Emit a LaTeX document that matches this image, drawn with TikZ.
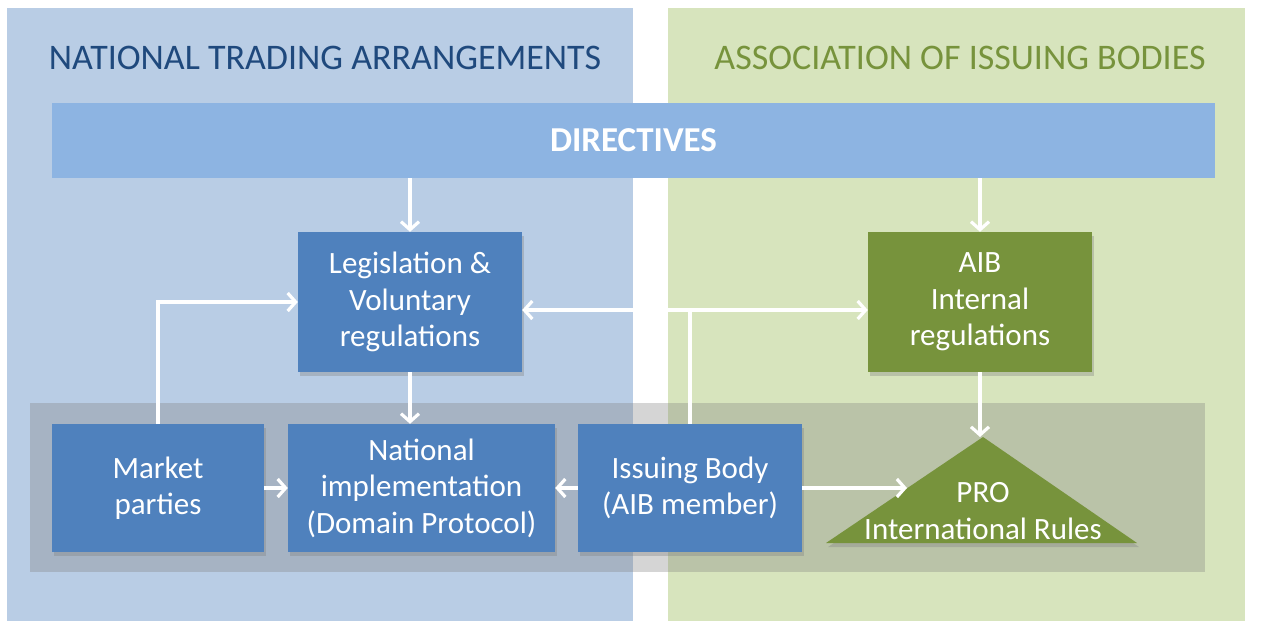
\documentclass[tikz,border=0pt]{standalone}
\usepackage{fontspec}
\setmainfont{Carlito}
\usepackage{xcolor}
\usepackage{tikz}
\usetikzlibrary{arrows.meta,shadows,positioning}

\definecolor{panelblue}{HTML}{B9CDE5}
\definecolor{panelgreen}{HTML}{D7E4BD}
\definecolor{barblue}{HTML}{8DB4E2}
\definecolor{boxblue}{HTML}{4F81BD}
\definecolor{boxgreen}{HTML}{77933C}
\definecolor{titleblue}{HTML}{1F497D}

\begin{document}
\begin{tikzpicture}[
    x=1pt, y=-1pt,
    boxtext/.style={
      font=\fontsize{31}{36.5}\selectfont,
      text=white,
      align=center
    },
    bluebox/.style={
      boxtext,
      rectangle,
      fill=boxblue,
      inner sep=0pt,
      minimum width=224pt,
      minimum height=140pt,
      drop shadow={shadow xshift=2pt, shadow yshift=-4pt, opacity=0.35}
    },
    greenbox/.style={bluebox, fill=boxgreen},
    flow/.style={
      draw=white,
      line width=3.2pt,
      -{Straight Barb[length=8pt,width=18pt]}
    },
    link/.style={draw=white, line width=3.2pt}
  ]

    % Page and the two panels
    \fill[white] (0,0) rectangle (1274,622);
    \useasboundingbox (0,0) rectangle (1274,622);
    \fill[panelblue] (7,8) rectangle (633,621);
    \fill[panelgreen] (668,8) rectangle (1245,621);

    % Panel titles
    \node[font=\fontsize{36}{42}\selectfont, text=titleblue] (ntaTitle) at (325,58) {NATIONAL TRADING ARRANGEMENTS};
    \node[font=\fontsize{36}{42}\selectfont, text=boxgreen] (aibTitle) at (960,58) {ASSOCIATION OF ISSUING BODIES};

    % Directives bar
    \node[fill=barblue, minimum width=1163pt, minimum height=75pt, inner sep=0pt,
      font=\fontsize{35}{40}\selectfont\bfseries, text=white] (dir) at (633.5,140.5) {DIRECTIVES};

    % Implementation band (grey)
    \fill[gray, fill opacity=0.33] (30,403) rectangle (1205,572);

    % Upper row
    \node[bluebox] (leg) at (410,302) {Legislation \&\\Voluntary\\regulations};
    \node[greenbox] (aib) at (980,302) {AIB\\Internal\\regulations};

    % Lower row
    \node[bluebox, minimum width=212pt, minimum height=128pt] (mp) at (158,488) {Market\\parties};
    \node[bluebox, minimum width=267pt, minimum height=128pt] (nat) at (421.5,488) {National\\implementation\\(Domain Protocol)};
    \node[bluebox, minimum width=224pt, minimum height=128pt] (ib) at (690,488) {Issuing Body\\(AIB member)};

    % PRO triangle
    \fill[boxgreen, drop shadow={shadow xshift=2pt, shadow yshift=-4pt, opacity=0.35}]
      (983,437) -- (1137,543) -- (826,543) -- cycle;
    \coordinate (proApex) at (983,437);
    \coordinate (proSide) at (907,488);
    \node[boxtext] (pro) at (983,511) {PRO\\International Rules};

    % Connectors
    \coordinate (legE) at ([yshift=-8pt]leg.east);
    \coordinate (aibW) at ([yshift=-8pt]aib.west);
    \draw[flow] (leg.north |- dir.south) -- (leg.north);
    \draw[flow] (aib.north |- dir.south) -- (aib.north);
    \draw[flow, {Straight Barb[length=8pt,width=18pt]}-{Straight Barb[length=8pt,width=18pt]}] (legE) -- (aibW);
    \draw[link] (ib.north) -- (ib.north |- legE);
    \draw[flow] (mp.north) |- (leg.west);
    \draw[flow] (leg.south) -- (leg.south |- nat.north);
    \draw[flow] (mp.east) -- (nat.west);
    \draw[flow] (ib.west) -- (nat.east);
    \draw[flow] (ib.east) -- (proSide);
    \draw[flow] (aib.south) -- (aib.south |- proApex);

  \end{tikzpicture}
\end{document}
